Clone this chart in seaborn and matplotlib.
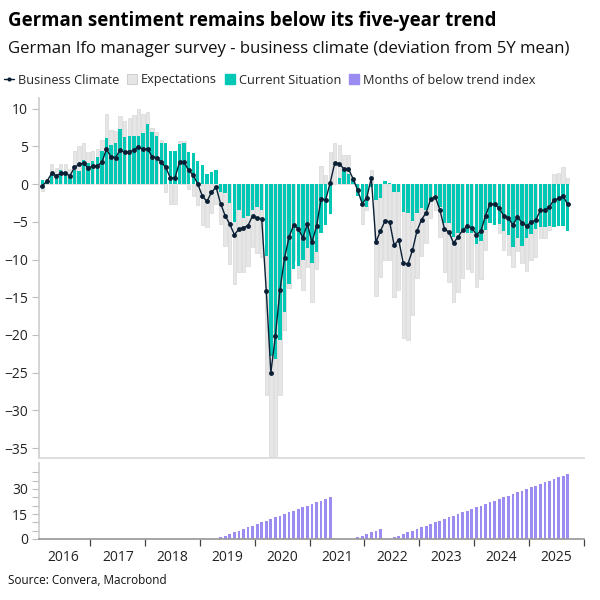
import matplotlib
matplotlib.use("Agg")
import matplotlib.pyplot as plt
from matplotlib.lines import Line2D
from matplotlib.patches import Patch
from matplotlib.ticker import FixedLocator
import seaborn as sns
import pandas as pd

# monthly, Feb 2016 .. Sep 2025 (deviation from 5Y mean)
business_climate = [
    -0.2, 0.4, 1.4, 1.1, 1.4, 1.4, 1.1, 2.2, 2.6, 2.8, 2.1, 2.4,
    2.4, 2.9, 4.6, 3.6, 3.5, 4.5, 4.2, 4.3, 4.5, 4.9, 4.6, 4.7,
    3.6, 3.5, 2.9, 2.2, 0.8, 0.8, 2.9, 2.9, 1.8, 1.2, 0.0, -1.6,
    -2.3, -1.1, -0.4, -2.6, -4.2, -5.3, -6.7, -6.0, -5.8, -5.5, -4.2, -4.5,
    -4.6, -14.2, -25.0, -20.1, -14.0, -9.8, -7.0, -5.4, -5.9, -7.1, -5.3, -7.7,
    -5.6, -2.0, -2.1, 0.2, 2.8, 2.7, 2.0, 2.0, 0.7, -0.8, -2.6, -1.8,
    0.8, -7.7, -6.2, -4.9, -5.0, -8.1, -7.4, -10.5, -10.6, -8.8, -6.2, -4.7,
    -3.8, -2.0, -1.7, -3.4, -5.9, -6.4, -7.8, -7.0, -6.1, -5.6, -5.8, -6.7,
    -6.2, -4.2, -2.6, -2.7, -3.2, -4.2, -4.5, -5.4, -4.4, -5.1, -5.6, -5.0,
    -4.8, -3.5, -3.5, -3.0, -2.1, -1.9, -1.6, -2.7,
]
expectations = [
    -0.9, 0.2, 2.6, 2.1, 2.6, 2.6, 2.0, 4.4, 5.0, 5.5, 4.2, 4.4,
    4.6, 5.8, 9.3, 7.1, 7.0, 9.0, 8.4, 8.7, 9.1, 9.9, 9.3, 9.5,
    7.4, 6.9, 5.8, -1.1, -2.6, -2.7, 5.7, 5.7, -0.6, -1.6, -2.8, -5.4,
    -5.7, -3.9, -2.6, -5.3, -8.2, -10.6, -13.2, -11.7, -11.6, -10.8, -8.4, -9.1,
    -9.7, -27.9, -38.0, -37.0, -27.9, -19.3, -13.8, -10.0, -12.5, -14.0, -11.0, -15.6,
    -11.2, 2.4, 1.2, 4.2, 5.5, 5.2, 3.9, 3.8, 0.4, -1.0, -5.3, -3.5,
    1.9, -14.9, -12.3, -10.1, -10.1, -15.0, -14.0, -20.4, -20.6, -17.4, -12.4, -9.5,
    -7.8, -4.5, -3.4, -7.0, -11.7, -13.0, -15.6, -14.3, -12.4, -11.3, -11.7, -13.7,
    -12.6, -8.7, -2.0, -2.5, -6.5, -8.7, -9.4, -11.0, -8.9, -10.4, -11.5, -10.1,
    -9.7, -7.1, -7.2, -6.1, 1.3, 1.5, 2.3, 0.8,
]
current_situation = [
    0.6, 0.4, 1.2, 1.2, 1.9, 1.5, 0.9, 1.9, 1.7, 3.2, 2.8, 3.0,
    3.6, 4.4, 6.1, 5.2, 5.5, 7.3, 6.2, 6.3, 6.4, 6.4, 6.8, 8.0,
    6.9, 6.3, 5.4, 5.5, 4.4, 4.4, 5.3, 5.4, 4.2, 4.1, 3.0, 2.5,
    1.3, 1.6, 1.9, -1.1, -1.2, -2.5, -5.0, -3.5, -4.5, -4.3, -3.4, -3.0,
    -3.5, -9.6, -22.8, -23.2, -20.6, -16.9, -13.2, -11.2, -10.8, -10.0, -8.5, -10.5,
    -9.0, -6.5, -5.4, -4.0, 0.0, 0.8, 2.0, 1.3, 0.5, -1.6, -2.8, -3.0,
    -0.4, -2.1, -1.9, 0.4, 0.2, -1.0, -1.0, -3.7, -3.9, -4.9, -3.8, -3.2,
    -3.4, -2.1, -1.5, -3.1, -5.2, -5.2, -7.0, -6.5, -6.4, -6.5, -6.5, -7.9,
    -7.5, -6.1, -5.1, -5.4, -5.3, -6.2, -6.8, -8.4, -7.2, -8.2, -7.1, -6.6,
    -5.9, -5.7, -5.7, -5.6, -5.7, -5.6, -5.6, -6.2,
]
months_below_trend = [
    0, 0, 0, 0, 0, 0, 0, 0, 0, 0, 0, 0,
    0, 0, 0, 0, 0, 0, 0, 0, 0, 0, 0, 0,
    0, 0, 0, 0, 0, 0, 0, 0, 0, 0, 0, 0,
    0, 0, 0, 1, 2, 3, 4, 5, 6, 7, 8, 9,
    10, 11, 12, 13, 14, 15, 16, 17, 18, 19, 20, 21,
    22, 23, 24, 25, 0, 0, 0, 0, 0, 1, 2, 3,
    4, 5, 6, 0, 0, 1, 2, 3, 4, 5, 6, 7,
    8, 9, 10, 11, 12, 13, 14, 15, 16, 17, 18, 19,
    20, 21, 22, 23, 24, 25, 26, 27, 28, 29, 30, 31,
    32, 33, 34, 35, 36, 37, 38, 39,
]
years = ["2016", "2017", "2018", "2019", "2020", "2021", "2022", "2023", "2024", "2025"]

df = pd.DataFrame({
    "month": range(len(business_climate)),
    "climate": business_climate,
    "expectations": expectations,
    "current": current_situation,
    "below": months_below_trend,
})

NAVY = "#0b1f35"
GREY = "#e6e6e6"
TEAL = "#00c8b4"
PURPLE = "#9a8cf0"

sns.set_theme(style="white")
plt.rcParams["font.family"] = ["Open Sans", "DejaVu Sans"]

fig = plt.figure(figsize=(6, 6), dpi=100)
left, right = 39.3 / 600, 583.7 / 600
ax = fig.add_axes([left, 1 - 458 / 600, right - left, 360 / 600])
ax2 = fig.add_axes([left, 1 - 539 / 600, right - left, 76 / 600])

# main panel
sns.barplot(data=df, x="month", y="expectations", native_scale=True, orient="x",
            color=GREY, saturation=1, width=0.74, errorbar=None,
            edgecolor="#d8d8d8", linewidth=0.5, ax=ax)
sns.barplot(data=df, x="month", y="current", native_scale=True, orient="x",
            color=TEAL, saturation=1, width=0.74, errorbar=None,
            linewidth=0, ax=ax)
sns.lineplot(data=df, x="month", y="climate", color=NAVY, linewidth=1,
             marker="o", markersize=3.5, markeredgewidth=0, ax=ax, zorder=5)

ax.set_xlim(-0.7, 118.5)
ax.set_ylim(-36.3, 11.4)
ax.set_yticks(range(-35, 11, 5))
ax.set_xlabel("")
ax.set_ylabel("")
ax.tick_params(axis="x", bottom=False, labelbottom=False)
ax.tick_params(axis="y", left=True, length=5, width=0.8, color="#bdbdbd",
               labelsize=10, labelcolor="#222222", pad=3)
for s in ["top", "right"]:
    ax.spines[s].set_visible(False)
ax.spines["left"].set_color("#cfcfcf")
ax.spines["bottom"].set_color("#d9d9d9")

# bottom panel
sns.barplot(data=df, x="month", y="below", native_scale=True, orient="x",
            color=PURPLE, saturation=1, width=0.6, errorbar=None,
            linewidth=0, ax=ax2)
ax2.set_xlim(-0.7, 118.5)
ax2.set_ylim(0, 45.6)
ax2.set_xlabel("")
ax2.set_ylabel("")
ax2.yaxis.set_major_locator(FixedLocator([0, 15, 30]))
ax2.yaxis.set_minor_locator(FixedLocator([5, 10, 20, 25, 35, 40]))
ax2.tick_params(axis="y", which="both", left=True, length=5, width=0.8,
                color="#bdbdbd", labelsize=10, labelcolor="#222222", pad=3)
ax2.xaxis.set_major_locator(FixedLocator([10.5 + 12 * k for k in range(10)]))
ax2.xaxis.set_minor_locator(FixedLocator([4.5 + 12 * k for k in range(10)]))
ax2.set_xticklabels([], minor=False)
ax2.set_xticklabels(years, minor=True)
ax2.tick_params(axis="x", which="major", bottom=True, length=5, width=0.9,
                color="#444444")
ax2.tick_params(axis="x", which="minor", bottom=True, length=0,
                labelsize=10, labelcolor="#222222", pad=8)
for s in ["top", "right"]:
    ax2.spines[s].set_visible(False)
ax2.spines["left"].set_color("#cfcfcf")
ax2.spines["bottom"].set_color("#9a9a9a")

# titles, legend, source
fig.text(0.013, 1 - 21 / 600, "German sentiment remains below its five-year trend",
         fontsize=13.4, fontweight="bold", color="black", va="center")
fig.text(0.013, 1 - 49 / 600,
         "German Ifo manager survey - business climate (deviation from 5Y mean)",
         fontsize=12.05, color="#111111", va="center")

handles = [
    Line2D([0], [0], color=NAVY, lw=1, marker="o", markersize=3, markeredgewidth=0),
    Patch(facecolor=GREY, edgecolor="#c8c8c8", linewidth=0.6),
    Patch(facecolor=TEAL, edgecolor=TEAL),
    Patch(facecolor=PURPLE, edgecolor=PURPLE),
]
labels = ["Business Climate", "Expectations", "Current Situation",
          "Months of below trend index"]
fig.legend(handles, labels, loc="center left", bbox_to_anchor=(0.0, 1 - 80 / 600),
           ncol=4, frameon=False, fontsize=9.2, handlelength=0.8,
           handleheight=0.8, handletextpad=0.3, columnspacing=0.6,
           borderaxespad=0, borderpad=0.3)

fig.text(0.013, 1 - 581 / 600, "Source: Convera, Macrobond", fontsize=8.5,
         color="#111111", va="center")

fig.savefig("out.png", dpi=100)
